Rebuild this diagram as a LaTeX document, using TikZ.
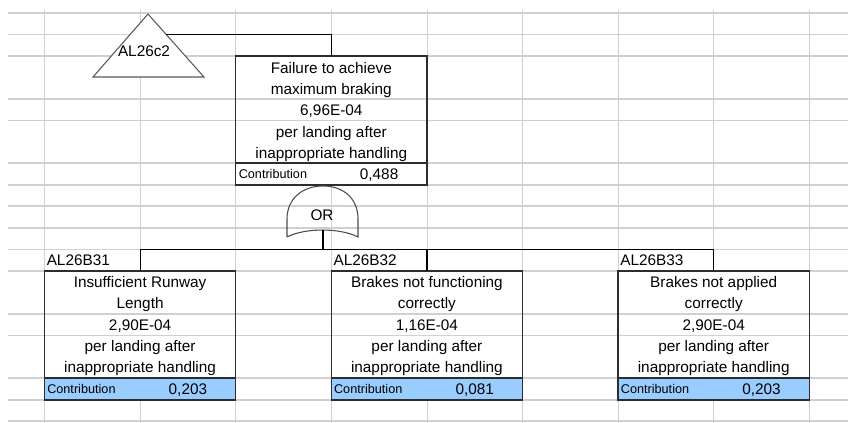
\documentclass[tikz,border=0pt]{standalone}
\usepackage{fontspec}
\setmainfont{Liberation Sans}
\usetikzlibrary{fit}
\definecolor{gridgray}{RGB}{208,208,208}
\definecolor{contribblue}{RGB}{153,204,255}
\definecolor{boxdark}{RGB}{45,45,45}
\begin{document}
\begin{tikzpicture}[x=0.75pt,y=-0.75pt,
  gridline/.style={draw=gridgray,line width=0.9pt},
  boxline/.style={draw=boxdark,line width=1pt},
  boxarea/.style={inner sep=0pt,outer sep=0pt,fill=white},
  link/.style={draw=black,line width=0.9pt},
  gateline/.style={draw=black!70,line width=0.8pt},
  maintxt/.style={font=\fontsize{11.5}{13}\selectfont,inner sep=0pt,anchor=base},
  smalltxt/.style={font=\fontsize{9.5}{11}\selectfont,inner sep=0pt,anchor=base west},
  labeltxt/.style={font=\fontsize{11.5}{13}\selectfont,inner sep=0pt,anchor=base west},
]
\fill[white] (0,0) rectangle (848,423);
\useasboundingbox (0,0) rectangle (848,423);
% spreadsheet grid
\foreach \gy in {13,34.5,56,99,120.5,163,185,206,228,249.5,271,314,335.5,378,400,421}
  \draw[gridline] (8,\gy) -- (848,\gy);
\foreach \gx in {44.5,140.1,235.7,331.3,427.4,522.5,618.1,713.7,809.3}
  \draw[gridline] (\gx,10) -- (\gx,423);

% box areas
\node[boxarea, fit={(235.7,56) (426.9,185)}] (top) {};
\node[boxarea, fit={(44.5,271) (235.7,400)}] (b1) {};
\node[boxarea, fit={(331.3,271) (522.5,400)}] (b2) {};
\node[boxarea, fit={(618.1,271) (809.3,400)}] (b3) {};

% visible row lines inside boxes
\foreach \gy in {99,120.5} \draw[gridline] (235.7,\gy) -- (426.9,\gy);
\foreach \bx in {44.5,331.3,618.1}{
  \foreach \gy in {314,335.5} \draw[gridline] (\bx,\gy) -- ++(191.2,0);
  \fill[contribblue] (\bx,378) rectangle ++(191.2,22);
}

% box borders
\draw[boxline] (top.north west) rectangle (top.south east);
\draw[boxline] (235.7,163) -- (426.9,163);
\draw[boxline] (b1.north west) rectangle (b1.south east);
\draw[boxline] (44.5,378) -- (235.7,378);
\draw[boxline] (b2.north west) rectangle (b2.south east);
\draw[boxline] (331.3,378) -- (522.5,378);
\draw[boxline] (b3.north west) rectangle (b3.south east);
\draw[boxline] (618.1,378) -- (809.3,378);

% transfer triangle
\coordinate (triapex) at (148,14);
\coordinate (trileft) at (93,77);
\coordinate (triright) at (204,77);
\coordinate (trijoin) at (166.2,34.5);
\filldraw[fill=white, draw=black!65, line width=0.8pt] (triapex) -- (trileft) -- (triright) -- cycle;
\node[maintxt] (tri) at (144,57) {AL26c2};

% link triangle -> top event
\draw[link] (trijoin) -| (top.north);

% OR gate
\coordinate (gatetop) at (323,186);
\coordinate (gatestem) at (323,229.8);
\draw[gateline] (287,237) -- (287,219) .. controls (287,199) and (302,186) .. (gatetop)
  .. controls (344,186) and (358,199) .. (358,219) -- (358,237)
  .. controls (340,227.7) and (305,227.7) .. (287,237);
\node[maintxt] (gate) at (322,220.5) {OR};

% links gate -> children
\coordinate (busleft) at (140.1,249.5);
\draw[link] (gatestem) -- (gatestem |- busleft);
\draw[link] (b1.north) -- (b1.north |- busleft) -- (b3.north |- busleft) -- (b3.north);
\draw[link] (b2.north) -- (b2.north |- busleft);

% top event text
\node[maintxt] (topa) at (331.3,74) {Failure to achieve};
\node[maintxt] (topb) at (331.3,95) {maximum braking};
\node[maintxt] (topc) at (331.3,116) {6,96E-04};
\node[maintxt] (topd) at (331.3,138) {per landing after};
\node[maintxt] (tope) at (331.3,159) {inappropriate handling};
\node[smalltxt] (topk) at (238.5,178.5) {Contribution};
\node[maintxt] (topv) at (379.1,180) {0,488};

% child 1
\node[labeltxt] (b1id) at (46.5,266) {AL26B31};
\node[maintxt] (b1a) at (140.1,288) {Insufficient Runway};
\node[maintxt] (b1b) at (140.1,309) {Length};
\node[maintxt] (b1c) at (140.1,330) {2,90E-04};
\node[maintxt] (b1d) at (140.1,352) {per landing after};
\node[maintxt] (b1e) at (140.1,373) {inappropriate handling};
\node[smalltxt] (b1k) at (47,393) {Contribution};
\node[maintxt] (b1v) at (187.9,394) {0,203};

% child 2
\node[labeltxt] (b2id) at (333.3,266) {AL26B32};
\node[maintxt] (b2a) at (426.9,288) {Brakes not functioning};
\node[maintxt] (b2b) at (426.9,309) {correctly};
\node[maintxt] (b2c) at (426.9,330) {1,16E-04};
\node[maintxt] (b2d) at (426.9,352) {per landing after};
\node[maintxt] (b2e) at (426.9,373) {inappropriate handling};
\node[smalltxt] (b2k) at (333.8,393) {Contribution};
\node[maintxt] (b2v) at (474.7,394) {0,081};

% child 3
\node[labeltxt] (b3id) at (620.1,266) {AL26B33};
\node[maintxt] (b3a) at (713.7,288) {Brakes not applied};
\node[maintxt] (b3b) at (713.7,309) {correctly};
\node[maintxt] (b3c) at (713.7,330) {2,90E-04};
\node[maintxt] (b3d) at (713.7,352) {per landing after};
\node[maintxt] (b3e) at (713.7,373) {inappropriate handling};
\node[smalltxt] (b3k) at (620.6,393) {Contribution};
\node[maintxt] (b3v) at (761.5,394) {0,203};
\end{tikzpicture}
\end{document}
